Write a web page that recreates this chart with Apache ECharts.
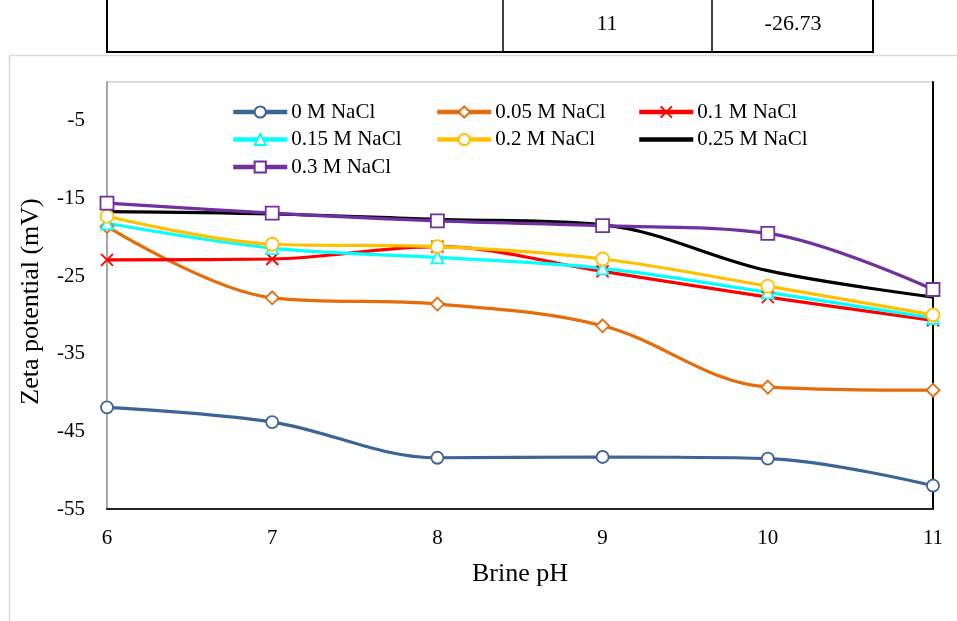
<!DOCTYPE html>
<html>
<head>
<meta charset="utf-8">
<script src="https://cdn.jsdelivr.net/npm/echarts@6/dist/echarts.min.js"></script>
<style>
  html, body { margin: 0; padding: 0; background: #fff; }
  #chart { width: 957px; height: 621px; }
</style>
</head>
<body>
<div id="chart"></div>
<script>
// Brine pH values on the x axis
const ph = [6, 7, 8, 9, 10, 11];

// Zeta potential (mV) for each NaCl concentration
const nacl000 = [-41.9, -43.8, -48.4, -48.3, -48.5, -52.0];
const nacl005 = [-18.6, -27.8, -28.6, -31.4, -39.3, -39.7];
const nacl010 = [-22.9, -22.8, -21.2, -24.4, -27.7, -30.7];
const nacl015 = [-18.2, -21.4, -22.6, -24.0, -27.1, -30.4];
const nacl020 = [-17.3, -20.9, -21.2, -22.8, -26.3, -30.0];
const nacl025 = [-16.7, -17.0, -17.7, -18.4, -24.3, -27.7];
const nacl030 = [-15.6, -16.9, -17.9, -18.5, -19.5, -26.73];

const seriesNames = ['0 M NaCl', '0.05 M NaCl', '0.1 M NaCl', '0.15 M NaCl', '0.2 M NaCl', '0.25 M NaCl', '0.3 M NaCl'];

// Table row shown above the plot
const tableRow = ['11', '-26.73'];

const serif = '"Liberation Serif", "Times New Roman", serif';
const crossPath = 'path://M0,0L10,10M10,0L0,10';
const plainLineIcon = 'path://M0,0L54,0L54,4.5L0,4.5Z';

function pairs(vals) {
  return ph.map((x, i) => [x, vals[i]]);
}

function makeSeries(name, vals, color, symbol, size) {
  const s = {
    name: name,
    type: 'line',
    data: pairs(vals),
    smooth: 0.35,
    lineStyle: { color: color, width: 3.2 },
    itemStyle: { color: '#fff', borderColor: color, borderWidth: 1.8 },
    emphasis: { disabled: true },
    z: 3
  };
  if (symbol) {
    s.symbol = symbol;
    s.symbolSize = size;
    s.showSymbol = true;
  } else {
    s.symbol = 'none';
    s.itemStyle = { color: color };
  }
  return s;
}

const chart = echarts.init(document.getElementById('chart'), null, { renderer: 'canvas' });

const legendBase = {
  orient: 'vertical',
  top: 101.5,
  itemWidth: 54,
  itemHeight: 14,
  itemGap: 6.5,
  padding: 0,
  lineStyle: { width: 4.5 },
  textStyle: { fontFamily: serif, fontSize: 21, lineHeight: 21, color: '#000', padding: [0, 0, 0, -1] },
  selectedMode: false
};

const option = {
  animation: false,
  backgroundColor: '#fff',
  graphic: [
    // outer chart frame
    { type: 'rect', shape: { x: 9.5, y: 55.5, width: 960, height: 600 },
      style: { fill: 'none', stroke: '#d9d9d9', lineWidth: 1.5 }, z: 0 },
    // table cells
    { type: 'rect', shape: { x: 107, y: -10, width: 766, height: 62 },
      style: { fill: '#fff', stroke: '#000', lineWidth: 2 }, z: 1 },
    { type: 'line', shape: { x1: 503, y1: -10, x2: 503, y2: 52 },
      style: { stroke: '#000', lineWidth: 1.5 }, z: 1 },
    { type: 'line', shape: { x1: 712, y1: -10, x2: 712, y2: 52 },
      style: { stroke: '#000', lineWidth: 1.5 }, z: 1 },
    { type: 'text', x: 607, y: 24, z: 2,
      style: { text: tableRow[0], fontFamily: serif, fontSize: 22, fill: '#000', align: 'center', verticalAlign: 'middle' } },
    { type: 'text', x: 793, y: 24, z: 2,
      style: { text: tableRow[1], fontFamily: serif, fontSize: 22, fill: '#000', align: 'center', verticalAlign: 'middle' } }
  ],
  legend: [
    Object.assign({}, legendBase, { left: 231, data: [seriesNames[0], seriesNames[3], seriesNames[6]] }),
    Object.assign({}, legendBase, { left: 435, data: [seriesNames[1], seriesNames[4]] }),
    Object.assign({}, legendBase, { left: 637, data: [seriesNames[2], { name: seriesNames[5], icon: plainLineIcon }] })
  ],
  grid: {
    left: 107, top: 82, right: 24, bottom: 112,
    show: true, borderColor: '#d0d0d0', borderWidth: 1.5, backgroundColor: 'transparent'
  },
  xAxis: {
    type: 'value',
    min: 6, max: 11, interval: 1,
    name: 'Brine pH',
    nameLocation: 'middle',
    nameGap: 52,
    nameTextStyle: { fontFamily: serif, fontSize: 26, color: '#000' },
    axisLine: { show: true, onZero: false, lineStyle: { color: '#222', width: 2 } },
    axisTick: { show: false },
    splitLine: { show: false },
    axisLabel: { fontFamily: serif, fontSize: 21, color: '#000', margin: 19 }
  },
  yAxis: [
    {
      type: 'value',
      min: -55, max: 0, interval: 10,
      name: 'Zeta potential (mV)',
      nameLocation: 'middle',
      nameRotate: 90,
      nameGap: 63,
      nameTextStyle: { fontFamily: serif, fontSize: 26, color: '#000', padding: [0, 12, 0, 0] },
      axisLine: { show: true, onZero: false, lineStyle: { color: '#a6a6a6', width: 2 } },
      axisTick: { show: false },
      splitLine: { show: false },
      axisLabel: {
        fontFamily: serif, fontSize: 21, color: '#000', margin: 22,
        padding: [6, 0, 0, 0],
        formatter: v => (v === 0 ? '' : String(v))
      }
    },
    {
      type: 'value',
      position: 'right',
      min: -55, max: 0, interval: 10,
      axisLine: { show: true, onZero: false, lineStyle: { color: '#000', width: 2 } },
      axisTick: { show: false },
      axisLabel: { show: false },
      splitLine: { show: false }
    }
  ],
  series: [
    makeSeries(seriesNames[0], nacl000, '#3b6497', 'circle', 12),
    makeSeries(seriesNames[1], nacl005, '#e46c0a', 'diamond', 13),
    makeSeries(seriesNames[2], nacl010, '#ff0000', crossPath, 12),
    makeSeries(seriesNames[3], nacl015, '#00ffff', 'triangle', 12),
    makeSeries(seriesNames[4], nacl020, '#ffc000', 'circle', 13),
    makeSeries(seriesNames[5], nacl025, '#000000', null, 0),
    makeSeries(seriesNames[6], nacl030, '#7030a0', 'rect', 13)
  ]
};

chart.setOption(option);
</script>
</body>
</html>
